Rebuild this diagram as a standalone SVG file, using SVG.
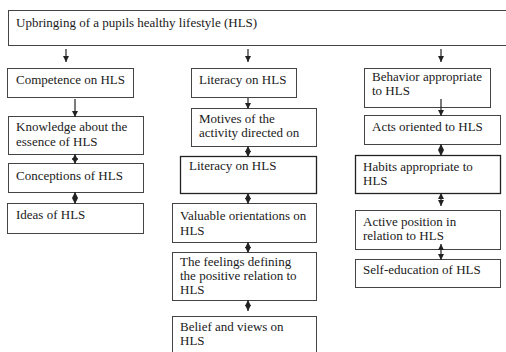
<svg xmlns="http://www.w3.org/2000/svg" width="506" height="352" viewBox="0 0 506 352">
<defs>
<marker id="ah" viewBox="0 0 6 6" refX="6" refY="3" markerWidth="6" markerHeight="6" markerUnits="userSpaceOnUse" orient="auto-start-reverse">
<path d="M0,0 L6,3 L0,6 Z" fill="#222"/>
</marker>
</defs>
<style>
rect{fill:#fff;stroke:#444;stroke-width:1}
text{font-family:"Liberation Serif","Times New Roman",serif;font-size:13px;fill:#1a1a1a}
.c line{stroke:#222;stroke-width:1.2}
.one{marker-end:url(#ah)}
.two{marker-start:url(#ah);marker-end:url(#ah)}
</style>
<rect x="0" y="0" width="506" height="352" style="fill:#fff;stroke:none"/>
<g id="top"><rect x="8.5" y="10.5" width="510" height="35"/><text x="16" y="27">Upbringing of a pupils healthy lifestyle (HLS)</text></g>
<g id="competence"><rect x="7.5" y="68.5" width="126" height="29"/><text x="16" y="84">Competence on HLS</text></g>
<g id="knowledge"><rect x="8.5" y="116.5" width="135" height="38"/><text x="16" y="131">Knowledge about the</text><text x="16" y="146">essence of HLS</text></g>
<g id="conceptions"><rect x="8.5" y="163.5" width="135" height="29"/><text x="16" y="180">Conceptions of HLS</text></g>
<g id="ideas"><rect x="7.5" y="203.5" width="136" height="30"/><text x="16" y="219">Ideas of HLS</text></g>
<g id="literacy1"><rect x="191.5" y="68.5" width="105" height="29"/><text x="199" y="84">Literacy on HLS</text></g>
<g id="motives"><rect x="191.5" y="108.5" width="125" height="38"/><text x="199" y="123">Motives of the</text><text x="199" y="137">activity directed on</text></g>
<g id="literacy2"><rect x="180.5" y="156.5" width="136" height="37" style="stroke:#222;stroke-width:1.3"/><text x="189" y="170">Literacy on HLS</text></g>
<g id="valuable"><rect x="172.5" y="203.5" width="144" height="39"/><text x="180" y="220">Valuable orientations on</text><text x="180" y="235">HLS</text></g>
<g id="feelings"><rect x="172.5" y="252.5" width="144" height="48"/><text x="180" y="266">The feelings defining</text><text x="180" y="280">the positive relation to</text><text x="180" y="294">HLS</text></g>
<g id="belief"><rect x="172.5" y="316.5" width="144" height="40"/><text x="180" y="331">Belief and views on</text><text x="180" y="345">HLS</text></g>
<g id="behavior"><rect x="364.5" y="68.5" width="126" height="39"/><text x="372" y="81">Behavior appropriate</text><text x="372" y="95">to HLS</text></g>
<g id="acts"><rect x="364.5" y="115.5" width="136" height="29"/><text x="372" y="131">Acts oriented to HLS</text></g>
<g id="habits"><rect x="355.5" y="155.5" width="145" height="38" style="stroke:#222;stroke-width:1.3"/><text x="363" y="171">Habits appropriate to</text><text x="363" y="185">HLS</text></g>
<g id="active"><rect x="355.5" y="210.5" width="145" height="39"/><text x="363" y="226">Active position in</text><text x="363" y="240">relation to HLS</text></g>
<g id="selfedu"><rect x="355.5" y="259.5" width="145" height="28"/><text x="363" y="274">Self-education of HLS</text></g>
<g class="c" id="connectors">
<line class="one" x1="66" y1="49" x2="66" y2="62"/>
<line class="one" x1="248" y1="49" x2="248" y2="62"/>
<line class="one" x1="441" y1="49" x2="441" y2="62"/>
<line class="one" x1="75" y1="99" x2="75" y2="117"/>
<line class="two" x1="75" y1="154" x2="75" y2="164"/>
<line class="two" x1="75" y1="192" x2="75" y2="204"/>
<line class="one" x1="248" y1="98" x2="248" y2="109"/>
<line class="two" x1="248" y1="146" x2="248" y2="157"/>
<line class="two" x1="248" y1="193" x2="248" y2="204"/>
<line class="two" x1="248" y1="242" x2="248" y2="253"/>
<line class="two" x1="248" y1="300" x2="248" y2="311"/>
<line class="one" x1="441" y1="99" x2="441" y2="116"/>
<line class="two" x1="441" y1="144" x2="441" y2="156"/>
<line class="two" x1="441" y1="193" x2="441" y2="206"/>
<line class="two" x1="441" y1="244" x2="441" y2="260"/>
</g>
</svg>
